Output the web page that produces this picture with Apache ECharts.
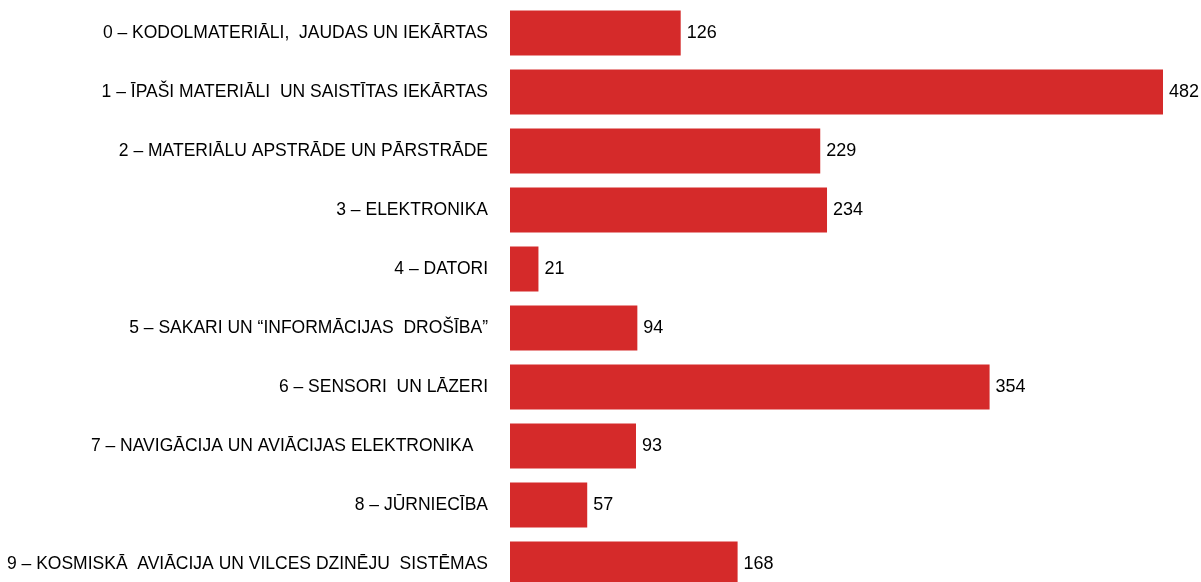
<!DOCTYPE html>
<html>
<head>
<meta charset="utf-8">
<script src="https://cdn.jsdelivr.net/npm/echarts@6/dist/echarts.min.js"></script>
<style>
html, body { margin: 0; padding: 0; background: #fff; }
#chart { width: 1201px; height: 582px; }
</style>
</head>
<body>
<div id="chart"></div>
<script>
var categories = [
	'0 – KODOLMATERIĀLI,  JAUDAS UN IEKĀRTAS',
	'1 – ĪPAŠI MATERIĀLI  UN SAISTĪTAS IEKĀRTAS',
	'2 – MATERIĀLU APSTRĀDE UN PĀRSTRĀDE',
	'3 – ELEKTRONIKA',
	'4 – DATORI',
	'5 – SAKARI UN “INFORMĀCIJAS  DROŠĪBA”',
	'6 – SENSORI  UN LĀZERI',
	'7 – NAVIGĀCIJA UN AVIĀCIJAS ELEKTRONIKA   ',
	'8 – JŪRNIECĪBA',
	'9 – KOSMISKĀ  AVIĀCIJA UN VILCES DZINĒJU  SISTĒMAS'
];
var values = [126, 482, 229, 234, 21, 94, 354, 93, 57, 168];

var chart = echarts.init(document.getElementById('chart'));
chart.setOption({
	animation: false,
	grid: { left: 510, right: 38, top: 3.5, height: 590, outerBoundsMode: 'none' },
	xAxis: {
		type: 'value',
		min: 0,
		max: 482,
		show: false
	},
	yAxis: {
		type: 'category',
		inverse: true,
		data: categories,
		axisLine: { show: false },
		axisTick: { show: false },
		axisLabel: {
			margin: 22,
			color: '#000',
			fontFamily: 'Liberation Sans, Arial, sans-serif',
			fontSize: 17.5
		}
	},
	series: [{
		type: 'bar',
		data: values,
		barCategoryGap: '24%',
		itemStyle: { color: '#D52A2A' },
		label: {
			show: true,
			position: 'right',
			distance: 6,
			color: '#000',
			fontFamily: 'Liberation Sans, Arial, sans-serif',
			fontSize: 18
		}
	}]
});
</script>
</body>
</html>
